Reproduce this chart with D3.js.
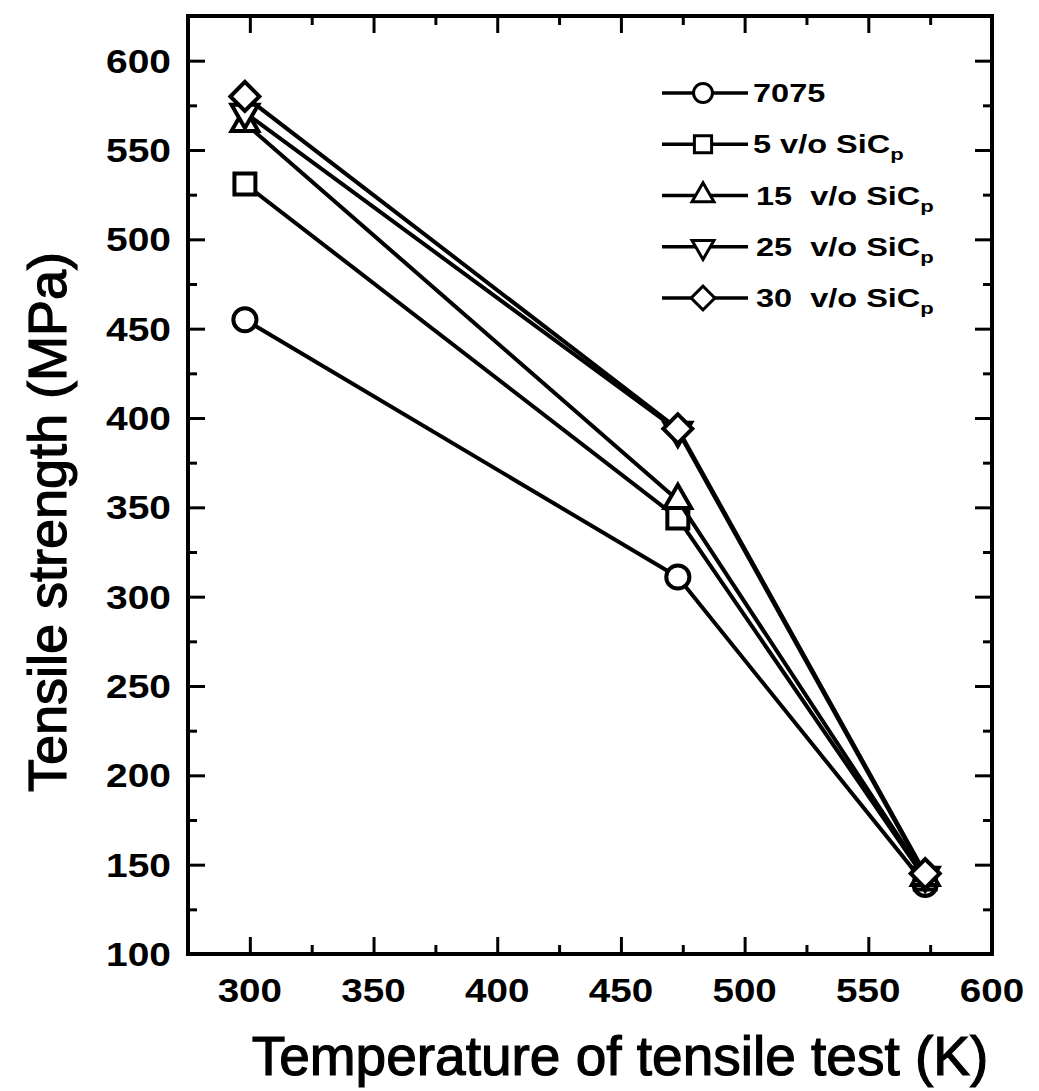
<!DOCTYPE html>
<html>
<head>
<meta charset="utf-8">
<script src="https://cdn.jsdelivr.net/npm/d3@7"></script>
<style>
  html, body { margin: 0; padding: 0; background: #fff; }
  svg { display: block; }
</style>
</head>
<body>
<svg id="chart" width="1039" height="1091"></svg>
<script>
// ---- data ----
const temperatures = [298, 473, 573];
const series7075 = [455, 311, 139];
const series5 = [531, 344, 142];
const series15 = [565, 354, 143];
const series25 = [571, 393, 144];
const series30 = [580, 394, 145];
const seriesNames = ["7075", "5 v/o SiC", "15  v/o SiC", "25  v/o SiC", "30  v/o SiC"];
const seriesSub = ["", "p", "p", "p", "p"];
const xTicks = [300, 350, 400, 450, 500, 550, 600];
const xMinor = [275, 325, 375, 425, 475, 525, 575];
const yTicks = [100, 150, 200, 250, 300, 350, 400, 450, 500, 550, 600];
const yMinor = [125, 175, 225, 275, 325, 375, 425, 475, 525, 575, 625];
const xTitle = "Temperature of tensile test (K)";
const yTitle = "Tensile strength (MPa)";

const allSeries = [series7075, series5, series15, series25, series30];
const symbols = ["circle", "square", "triangle", "triangleDown", "diamond"];

// ---- layout ----
const L = 188, R = 992, T = 16, B = 954;
const svg = d3.select("#chart");
const x = d3.scaleLinear().domain([275, 600]).range([L, R]);
const y = d3.scaleLinear().domain([100, 625]).range([B, T]);

function symPath(kind, scale) {
  const s = scale || 1;
  if (kind === "circle") return d3.symbol(d3.symbolCircle, 420 * s * s)();
  if (kind === "square") return d3.symbol(d3.symbolSquare, 440 * s * s)();
  if (kind === "triangle" || kind === "triangleDown") return d3.symbol(d3.symbolTriangle, 310 * s * s)();
  if (kind === "diamond") return d3.symbol(d3.symbolSquare, 420 * s * s)();
}
function symRot(kind) {
  if (kind === "triangleDown") return " rotate(180)";
  if (kind === "diamond") return " rotate(45)";
  return "";
}

// ---- axes ticks (inward) ----
const tickStroke = 3;
function styleAxis(g) {
  g.select(".domain").remove();
  g.selectAll(".tick line").attr("stroke", "#000").attr("stroke-width", tickStroke);
}
svg.append("g").attr("transform", `translate(0,${B})`)
  .call(d3.axisBottom(x).tickValues(xTicks).tickSize(-17).tickFormat(""))
  .call(styleAxis);
svg.append("g").attr("transform", `translate(0,${B})`)
  .call(d3.axisBottom(x).tickValues(xMinor).tickSize(-9).tickFormat(""))
  .call(styleAxis);
svg.append("g").attr("transform", `translate(0,${T})`)
  .call(d3.axisTop(x).tickValues(xTicks).tickSize(-17).tickFormat(""))
  .call(styleAxis);
svg.append("g").attr("transform", `translate(0,${T})`)
  .call(d3.axisTop(x).tickValues(xMinor).tickSize(-9).tickFormat(""))
  .call(styleAxis);
svg.append("g").attr("transform", `translate(${L},0)`)
  .call(d3.axisLeft(y).tickValues(yTicks).tickSize(-17).tickFormat(""))
  .call(styleAxis);
svg.append("g").attr("transform", `translate(${L},0)`)
  .call(d3.axisLeft(y).tickValues(yMinor).tickSize(-9).tickFormat(""))
  .call(styleAxis);
svg.append("g").attr("transform", `translate(${R},0)`)
  .call(d3.axisRight(y).tickValues(yTicks).tickSize(-17).tickFormat(""))
  .call(styleAxis);
svg.append("g").attr("transform", `translate(${R},0)`)
  .call(d3.axisRight(y).tickValues(yMinor).tickSize(-9).tickFormat(""))
  .call(styleAxis);

// frame
svg.append("rect").attr("x", L).attr("y", T).attr("width", R - L).attr("height", B - T)
  .attr("fill", "none").attr("stroke", "#000").attr("stroke-width", 4);

// tick labels
const labelFont = "'Liberation Sans', Arial, sans-serif";
svg.append("g").selectAll("text").data(xTicks).join("text")
  .attr("transform", d => `translate(${x(d)},1002) scale(1.17,1)`)
  .attr("text-anchor", "middle")
  .attr("font-family", labelFont).attr("font-weight", "bold").attr("font-size", 33)
  .text(d => d);
svg.append("g").selectAll("text").data(yTicks).join("text")
  .attr("transform", d => `translate(171,${y(d) + 12}) scale(1.18,1)`)
  .attr("text-anchor", "end")
  .attr("font-family", labelFont).attr("font-weight", "bold").attr("font-size", 33)
  .text(d => d);

// axis titles
svg.append("text").attr("x", 620).attr("y", 1075).attr("text-anchor", "middle")
  .attr("font-family", labelFont).attr("font-size", 55)
  .attr("stroke", "#000").attr("stroke-width", 1.2)
  .text(xTitle);
svg.append("text").attr("transform", "translate(66,522) rotate(-90)").attr("text-anchor", "middle")
  .attr("font-family", labelFont).attr("font-size", 54)
  .attr("stroke", "#000").attr("stroke-width", 1.2)
  .text(yTitle);

// ---- series ----
const line = d3.line().x(d => x(d[0])).y(d => y(d[1]));
allSeries.forEach((vals, i) => {
  const pts = temperatures.map((t, j) => [t, vals[j]]);
  const g = svg.append("g");
  g.append("path").attr("d", line(pts)).attr("fill", "none")
    .attr("stroke", "#000").attr("stroke-width", 4).attr("stroke-linejoin", "round");
  g.selectAll("path.m").data(pts).join("path").attr("class", "m")
    .attr("d", symPath(symbols[i]))
    .attr("transform", d => `translate(${x(d[0])},${y(d[1])})` + symRot(symbols[i]))
    .attr("fill", "#fff").attr("stroke", "#000").attr("stroke-width", 4);
});

// ---- legend ----
const legY = d3.scaleLinear().domain([0, 4]).range([93, 298]);
const leg = svg.append("g");
seriesNames.forEach((name, i) => {
  const cy = legY(i);
  leg.append("line").attr("x1", 662).attr("x2", 748).attr("y1", cy).attr("y2", cy)
    .attr("stroke", "#000").attr("stroke-width", 3.5);
  leg.append("path").attr("d", symPath(symbols[i], 0.82))
    .attr("transform", `translate(703,${cy})` + symRot(symbols[i]))
    .attr("fill", "#fff").attr("stroke", "#000").attr("stroke-width", 3);
  const t = leg.append("text")
    .attr("transform", `translate(${i < 2 ? 753 : 756},${cy + 9}) scale(1.3,1)`)
    .attr("font-family", labelFont).attr("font-weight", "bold").attr("font-size", 25)
    .style("white-space", "pre");
  t.append("tspan").text(name);
  if (seriesSub[i]) {
    t.append("tspan").attr("font-size", 17).attr("dy", 7).text(seriesSub[i]);
  }
});
</script>
</body>
</html>
